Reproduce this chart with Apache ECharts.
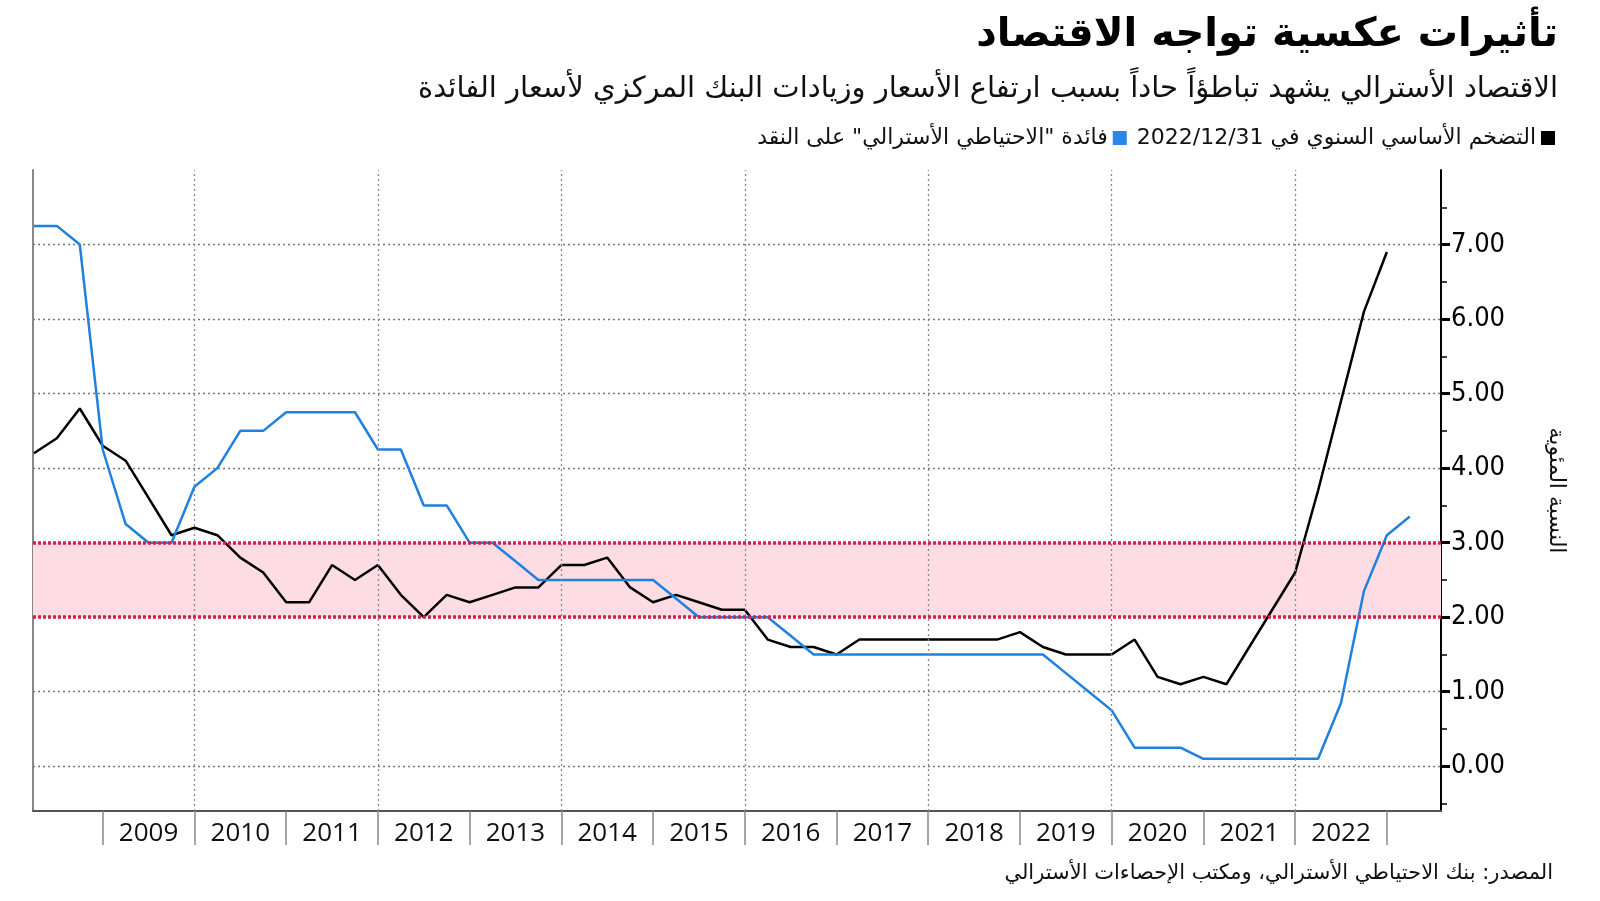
<!DOCTYPE html>
<html>
<head>
<meta charset="utf-8">
<script src="https://cdn.jsdelivr.net/npm/echarts@6/dist/echarts.min.js"></script>
<style>
  html, body { margin: 0; padding: 0; background: #ffffff; }
  #chart { width: 1600px; height: 901px; }
</style>
</head>
<body>
<div id="chart" dir="rtl"></div>
<script>
// Quarter-end dates (Mar 2008 ... Mar 2023)
const quarters = [
  '2008-03','2008-06','2008-09','2008-12',
  '2009-03','2009-06','2009-09','2009-12',
  '2010-03','2010-06','2010-09','2010-12',
  '2011-03','2011-06','2011-09','2011-12',
  '2012-03','2012-06','2012-09','2012-12',
  '2013-03','2013-06','2013-09','2013-12',
  '2014-03','2014-06','2014-09','2014-12',
  '2015-03','2015-06','2015-09','2015-12',
  '2016-03','2016-06','2016-09','2016-12',
  '2017-03','2017-06','2017-09','2017-12',
  '2018-03','2018-06','2018-09','2018-12',
  '2019-03','2019-06','2019-09','2019-12',
  '2020-03','2020-06','2020-09','2020-12',
  '2021-03','2021-06','2021-09','2021-12',
  '2022-03','2022-06','2022-09','2022-12',
  '2023-03'
];
// Annual trimmed-mean (core) inflation, %
const coreInflation = [
  4.2, 4.4, 4.8, 4.3, 4.1, 3.6, 3.1, 3.2, 3.1, 2.8, 2.6, 2.2,
  2.2, 2.7, 2.5, 2.7, 2.3, 2.0, 2.3, 2.2, 2.3, 2.4, 2.4, 2.7,
  2.7, 2.8, 2.4, 2.2, 2.3, 2.2, 2.1, 2.1, 1.7, 1.6, 1.6, 1.5,
  1.7, 1.7, 1.7, 1.7, 1.7, 1.7, 1.7, 1.8, 1.6, 1.5, 1.5, 1.5,
  1.7, 1.2, 1.1, 1.2, 1.1, 1.6, 2.1, 2.6, 3.7, 4.9, 6.1, 6.9
];
// RBA cash rate, %
const cashRate = [
  7.25, 7.25, 7.00, 4.25, 3.25, 3.00, 3.00, 3.75, 4.00, 4.50, 4.50, 4.75,
  4.75, 4.75, 4.75, 4.25, 4.25, 3.50, 3.50, 3.00, 3.00, 2.75, 2.50, 2.50,
  2.50, 2.50, 2.50, 2.50, 2.25, 2.00, 2.00, 2.00, 2.00, 1.75, 1.50, 1.50,
  1.50, 1.50, 1.50, 1.50, 1.50, 1.50, 1.50, 1.50, 1.50, 1.25, 1.00, 0.75,
  0.25, 0.25, 0.25, 0.10, 0.10, 0.10, 0.10, 0.10, 0.10, 0.85, 2.35, 3.10,
  3.35
];
// Axis tick values / labels
const yearBounds = [2009,2010,2011,2012,2013,2014,2015,2016,2017,2018,2019,2020,2021,2022,2023];
const yearLabels = [2009,2010,2011,2012,2013,2014,2015,2016,2017,2018,2019,2020,2021,2022];
const gridYears = [2010,2012,2014,2016,2018,2020,2022];
const yTicks = [0,1,2,3,4,5,6,7];
const yMinorTicks = [-0.5,0.5,1.5,2.5,3.5,4.5,5.5,6.5,7.5];
const targetBand = [2, 3];

const nameCore = 'التضخم الأساسي السنوي في 2022/12/31';
const nameRate = 'فائدة "الاحتياطي الأسترالي" على النقد';

function toYear(q) { const p = q.split('-'); return Number(p[0]) + Number(p[1]) / 12; }
const corePts = coreInflation.map((v, i) => [toYear(quarters[i]), v]);
const ratePts = cashRate.map((v, i) => [toYear(quarters[i]), v]);

const XMIN = 2008.24, XMAX = 2023.59;
const arabicFont = 'DejaVu Sans';
const chart = echarts.init(document.getElementById('chart'), null, { renderer: 'canvas' });

chart.setOption({
  backgroundColor: '#ffffff',
  animation: false,
  title: [
    { text: 'تأثيرات عكسية تواجه الاقتصاد', right: 42, top: 16, padding: 0,
      textStyle: { fontFamily: arabicFont, fontWeight: 'bold', fontSize: 40, color: '#000' } },
    { text: 'الاقتصاد الأسترالي يشهد تباطؤاً حاداً بسبب ارتفاع الأسعار وزيادات البنك المركزي لأسعار الفائدة',
      right: 42, top: 75, padding: 0,
      textStyle: { fontFamily: arabicFont, fontWeight: 'normal', fontSize: 29, color: '#111' } },
    { text: 'المصدر: بنك الاحتياطي الأسترالي، ومكتب الإحصاءات الأسترالي', right: 47, top: 863, padding: 0,
      textStyle: { fontFamily: arabicFont, fontWeight: 'normal', fontSize: 21, color: '#111' } }
  ],
  legend: {
    data: [nameRate, nameCore], right: 45, top: 127, padding: 0, align: 'right',
    itemWidth: 14, itemHeight: 14, itemGap: 10, icon: 'rect', selectedMode: false,
    textStyle: { fontFamily: arabicFont, fontSize: 22, color: '#111' }
  },
  grid: { left: 33, right: 159, top: 170, bottom: 90, containLabel: false },
  xAxis: [
    { type: 'value', min: XMIN, max: XMAX, position: 'bottom',
      axisLine: { show: true, onZero: false, lineStyle: { color: '#555', width: 2 } },
      axisTick: { show: false },
      axisLabel: { show: true, customValues: yearLabels.map(y => y + 0.5), margin: 10,
        fontFamily: 'Open Sans', fontSize: 26, color: '#111', formatter: v => String(Math.floor(v)) },
      splitLine: { show: false }, minorSplitLine: { show: false } },
    { type: 'value', min: XMIN, max: XMAX, position: 'bottom',
      axisLine: { show: false, onZero: false },
      axisTick: { show: true, customValues: yearBounds, length: 34, inside: false, lineStyle: { color: '#888', width: 1.5 } },
      axisLabel: { show: false },
      splitLine: { show: false }, minorSplitLine: { show: false } }
  ],
  yAxis: [
    { type: 'value', min: -0.6, max: 8, position: 'right',
      axisLine: { show: true, onZero: false, lineStyle: { color: '#000', width: 2 } },
      axisTick: { show: true, customValues: yTicks, length: 9, inside: false, lineStyle: { color: '#000', width: 3 } },
      axisLabel: { show: true, customValues: yTicks, margin: 10,
        fontFamily: 'DejaVu Sans Condensed', fontSize: 27, color: '#000', formatter: v => v.toFixed(2) },
      splitLine: { show: true, lineStyle: { color: '#777', width: 1.3, type: [2, 3] } },
      name: 'النسبة المئوية', nameLocation: 'middle', nameGap: 104, nameRotate: -90,
      nameTextStyle: { fontFamily: arabicFont, fontSize: 22, color: '#111' } },
    { type: 'value', min: -0.6, max: 8, position: 'right',
      axisLine: { show: false },
      axisTick: { show: true, customValues: yMinorTicks, length: 6, inside: false, lineStyle: { color: '#000', width: 1.5 } },
      axisLabel: { show: false }, splitLine: { show: false } },
    { type: 'value', min: -0.6, max: 8, position: 'left',
      axisLine: { show: true, onZero: false, lineStyle: { color: '#888', width: 2 } },
      axisTick: { show: false }, axisLabel: { show: false }, splitLine: { show: false } }
  ],
  series: [
    { name: 'grid', type: 'line', data: [], xAxisIndex: 0, yAxisIndex: 0, z: 1, silent: true,
      markLine: { silent: true, symbol: 'none', label: { show: false },
        lineStyle: { color: '#888', width: 1.3, type: [2, 3] },
        data: gridYears.map(y => ({ xAxis: y })) } },
    { name: 'band', type: 'line', data: [], xAxisIndex: 0, yAxisIndex: 0, z: 2, silent: true,
      markArea: { silent: true, itemStyle: { color: '#fddde3' },
        data: [[{ yAxis: targetBand[0] }, { yAxis: targetBand[1] }]] },
      markLine: { silent: true, symbol: 'none', label: { show: false },
        lineStyle: { color: '#d3204c', width: 3.5, type: [3, 2] },
        data: [{ yAxis: targetBand[0] }, { yAxis: targetBand[1] }] } },
    { name: nameCore, type: 'line', data: corePts, showSymbol: false, symbol: 'none', z: 3,
      itemStyle: { color: '#000000' }, lineStyle: { color: '#000000', width: 2.5 } },
    { name: nameRate, type: 'line', data: ratePts, showSymbol: false, symbol: 'none', z: 4,
      itemStyle: { color: '#2a86e8' }, lineStyle: { color: '#1f80e0', width: 2.5 } }
  ]
});
</script>
</body>
</html>
